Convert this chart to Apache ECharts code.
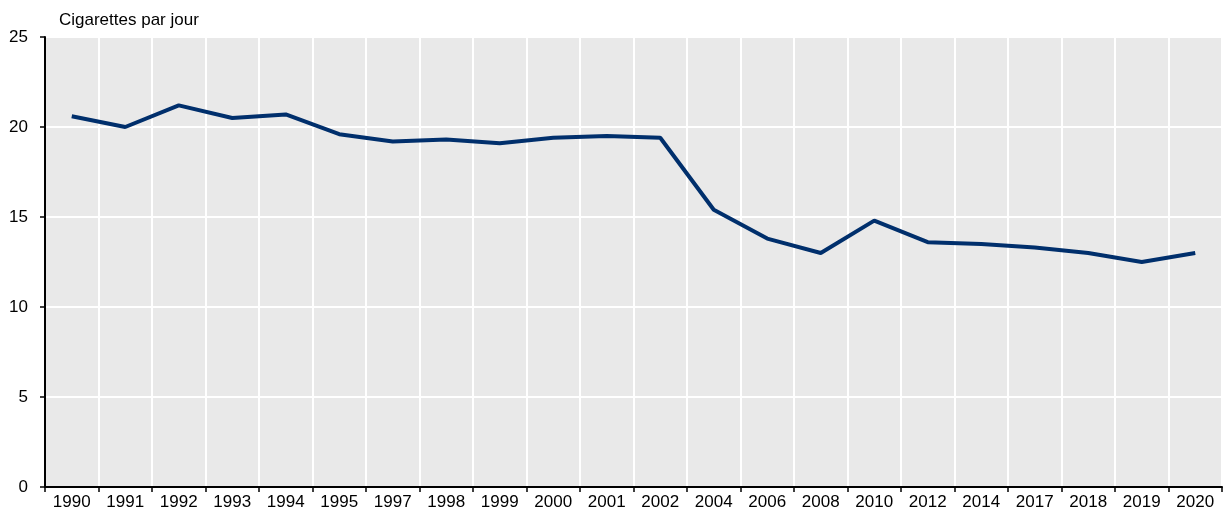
<!DOCTYPE html>
<html>
<head>
<meta charset="utf-8">
<script src="https://cdn.jsdelivr.net/npm/echarts@6/dist/echarts.min.js"></script>
<style>
	html,body{margin:0;padding:0;background:#fff;}
	#chart{width:1224px;height:513px;}
</style>
</head>
<body>
<div id="chart"></div>
<script>
	// 数据
	var years = ['1990','1991','1992','1993','1994','1995','1997','1998','1999','2000','2001',
		'2002','2004','2006','2008','2010','2012','2014','2017','2018','2019','2020'];
	var cigarettes = [20.6, 20.0, 21.2, 20.5, 20.7, 19.6, 19.2, 19.3, 19.1, 19.4, 19.5,
		19.4, 15.4, 13.8, 13.0, 14.8, 13.6, 13.5, 13.3, 13.0, 12.5, 13.0];
	var yTicks = [0, 5, 10, 15, 20, 25];

	var myChart = echarts.init(document.getElementById('chart'));
	var font = 'Liberation Sans, Arial, sans-serif';
	var option = {
		animation: false,
		grid: {
			left: 45, right: 2, top: 37, bottom: 26,
			show: true, backgroundColor: '#e9e9e9', borderWidth: 0
		},
		title: {
			text: 'Cigarettes par jour',
			left: 54, top: 7,
			textStyle: {fontFamily: font, fontSize: 17, fontWeight: 'normal', color: '#000'}
		},
		xAxis: {
			type: 'category',
			data: years,
			boundaryGap: true,
			axisLine: {lineStyle: {color: '#000', width: 2}},
			axisTick: {show: true, length: 5, lineStyle: {color: '#000', width: 1.5}},
			axisLabel: {fontFamily: font, fontSize: 17, color: '#000', margin: 7, interval: 0},
			splitLine: {show: true, lineStyle: {color: '#fff', width: 2}}
		},
		yAxis: {
			type: 'value',
			min: yTicks[0],
			max: yTicks[yTicks.length - 1],
			interval: 5,
			axisLine: {show: true, lineStyle: {color: '#000', width: 2}},
			axisTick: {show: true, length: 5, lineStyle: {color: '#000', width: 1.5}},
			axisLabel: {fontFamily: font, fontSize: 17, color: '#000', margin: 17},
			splitLine: {show: true, lineStyle: {color: '#fff', width: 2}}
		},
		series: [{
			type: 'line',
			data: cigarettes,
			symbol: 'none',
			lineStyle: {color: '#002f6c', width: 4},
			itemStyle: {color: '#002f6c'}
		}]
	};
	myChart.setOption(option);
</script>
</body>
</html>
